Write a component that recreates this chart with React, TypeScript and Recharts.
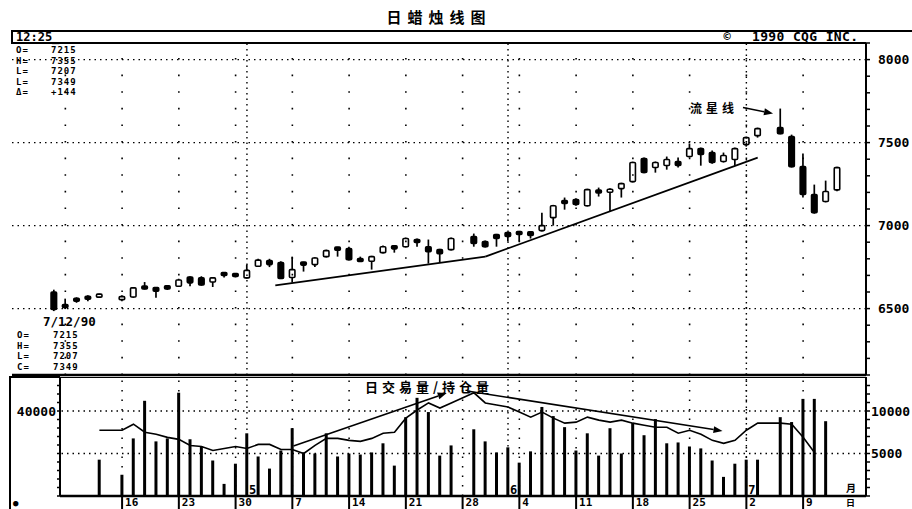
import React from "react";
import { ComposedChart, Bar, Line, XAxis, YAxis, ReferenceLine } from "recharts";

// ---------- data ----------
const dates = [
  "4/6", "4/9", "4/10", "4/11", "4/12", "4/13", "4/16", "4/17", "4/18", "4/19", "4/20",
  "4/23", "4/24", "4/25", "4/26", "4/27", "4/30", "5/1", "5/2", "5/3", "5/4",
  "5/7", "5/8", "5/9", "5/10", "5/11", "5/14", "5/15", "5/16", "5/17", "5/18",
  "5/21", "5/22", "5/23", "5/24", "5/25", "5/28", "5/29", "5/30", "5/31", "6/1",
  "6/4", "6/5", "6/6", "6/7", "6/8", "6/11", "6/12", "6/13", "6/14", "6/15",
  "6/18", "6/19", "6/20", "6/21", "6/22", "6/25", "6/26", "6/27", "6/28", "6/29",
  "7/2", "7/3", "7/4", "7/5", "7/6", "7/9", "7/10", "7/11", "7/12",
];

const opens = [
  6600, 6522, 6556, 6568, 6576, null, 6560, 6570, 6632, 6627,
  6638, 6635, 6690, 6685, 6660, 6712, 6705, 6685, 6755, 6790,
  6777, 6687, 6777, 6765, 6813, 6867, 6861, 6795, 6785, 6837,
  6873, 6873, 6915, 6873, 6855, 6855, null, 6934, 6904, 6946,
  6958, 6964, 6962, 6970, 7048, 7150, 7157, 7120, 7210, 7205,
  7223, 7265, 7404, 7350, 7362, 7386, 7416, 7464, 7440, 7386,
  7398, 7488, 7542, null, 7590, 7536, 7355, 7187, 7145, 7215,
];
const highs = [
  6614, 6560, 6568, 6580, 6590, null, 6580, 6630, 6660, 6630,
  6642, 6680, 6695, 6695, 6690, 6718, 6712, 6765, 6800, 6800,
  6785, 6813, 6782, 6810, 6855, 6872, 6873, 6813, 6818, 6880,
  6878, 6928, 6922, 6916, 6860, 6928, null, 6952, 6910, 6950,
  6962, 6968, 6966, 7078, 7125, 7169, 7165, 7222, 7229, 7225,
  7258, 7385, 7410, 7386, 7416, 7410, 7494, 7470, 7452, 7440,
  7470, 7536, 7590, null, 7705, 7548, 7434, 7247, 7271, 7355,
];
const lows = [
  6485, 6497, 6535, 6545, 6565, null, 6545, 6565, 6615, 6565,
  6612, 6630, 6635, 6638, 6630, 6688, 6688, 6680, 6750, 6750,
  6678, 6657, 6723, 6750, 6808, 6813, 6790, 6785, 6735, 6832,
  6837, 6868, 6873, 6771, 6777, 6850, null, 6873, 6868, 6873,
  6904, 6904, 6922, 6965, 7000, 7096, 7120, 7115, 7175, 7084,
  7169, 7260, 7315, 7319, 7337, 7350, 7410, 7361, 7373, 7380,
  7361, 7476, 7530, null, 7550, 7350, 7169, 7072, 7140, 7207,
];
const closes = [
  6495, 6510, 6550, 6562, 6580, null, 6566, 6625, 6622, 6605,
  6618, 6672, 6655, 6642, 6685, 6705, 6700, 6730, 6792, 6765,
  6681, 6735, 6765, 6805, 6849, 6855, 6795, 6790, 6813, 6873,
  6865, 6922, 6900, 6843, 6831, 6922, null, 6892, 6873, 6922,
  6934, 6946, 6940, 7000, 7120, 7135, 7127, 7217, 7200, 7215,
  7253, 7380, 7320, 7380, 7398, 7362, 7464, 7428, 7380, 7422,
  7464, 7530, 7584, null, 7554, 7355, 7187, 7078, 7205, 7349,
];
// daily volume (left scale)
const volumes = [
  null, null, null, null, 17100, null, 10000, 27100, 44800, 25700,
  27100, 48600, 26700, 23300, 16700, 5700, 15200, 29500, 18600, 12900,
  21400, 31900, 20500, 20000, 29500, 18600, 20000, 19500, 20500, 24800,
  14300, 37100, 46200, 39500, 19000, 23800, null, 31400, 25700, 20500,
  22900, 15700, 21000, 41900, 37600, 32400, 21400, 29500, 19000, 31900,
  20000, 34300, 28600, 36200, 24800, 25200, 23300, 22400, 16700, 9000,
  15200, 17100, 17100, null, 37100, 34800, 45700, 45700, 35200, null,
];
// open interest (right scale)
const openInterest = [
  null, null, null, null, 7735, null, 7735, 8450, 7500, 7260,
  6900, 6660, 5950, 5830, 5355, 5590, 5830, 5590, 6070, 6070,
  5470, 5470, 5000, 5950, 6780, 6780, 6545, 6425, 6780, 7380,
  7500, 9160, 10115, 10950, 10350, 10950, null, 12140, 10950, 10710,
  10470, 9880, 9280, 9880, 9160, 8570, 8690, 9280, 8925, 8690,
  8925, 8570, 8330, 8090, 8090, 7380, 7735, 7260, 6545, 6190,
  6545, 7735, 8570, null, 8570, 8450, 6900, 5120, null, null,
];

const priceTicks = [6100, 6200, 6300, 6400, 6500, 6600, 6700, 6800, 6900, 7000, 7100,
  7200, 7300, 7400, 7500, 7600, 7700, 7800, 7900, 8000, 8100];
const priceLabelTicks = [6500, 7000, 7500, 8000];
const volLeftTicks = [0, 4000, 8000, 12000, 16000, 20000, 24000, 28000, 32000, 36000, 40000, 44000, 48000, 52000];
const volLeftLabels = [40000];
const oiTicks = [0, 1000, 2000, 3000, 4000, 5000, 6000, 7000, 8000, 9000, 10000, 11000, 12000, 13000];
const oiLabels = [5000, 10000];

const gridMondays = ["4/9", "4/16", "4/23", "4/30", "5/7", "5/14", "5/21", "5/28", "6/4", "6/11", "6/18", "6/25", "7/2", "7/9"];
const weekLabelDates = ["4/16", "4/23", "4/30", "5/7", "5/14", "5/21", "5/28", "6/4", "6/11", "6/18", "6/25", "7/2", "7/9"];
const monthStartDates = ["5/1", "6/1", "7/2"];
const monthLabels = ["5", "6", "7"];

// trend line (trading-day index, price)
const supportT = [19.5, 38, 62];
const supportP = [6640, 6813, 7410];
// shooting star annotation arrow
const starArrowT = [60.7, 63.35];
const starArrowP = [7711, 7675];
// volume panel arrows (trading-day index, open-interest scale)
const volUpT = [21.1, 34.6];
const volUpV = [5880, 12120];
const volDownT = [36.4, 58.9];
const volDownV = [12350, 7650];

const topLabels = ["O=", "H=", "L=", "L=", "Δ="];
const topValues = ["7215", "7355", "7207", "7349", "+144"];
const bottomLabels = ["O=", "H=", "L=", "C="];
const bottomValues = ["7215", "7355", "7207", "7349"];
const infoDate = "7/12/90";
const infoTime = "12:25";

const data = dates.map((d, i) => ({
  i,
  date: d,
  range: highs[i] == null ? null : [lows[i], highs[i]],
  open: opens[i],
  high: highs[i],
  low: lows[i],
  close: closes[i],
  vol: volumes[i],
  oi: openInterest[i],
}));

const slotOf = (d: string) => dates.indexOf(d);

// ---------- styles ----------
const MONO = "'DejaVu Sans Mono', monospace";
const CJK = "'Noto Sans CJK SC', sans-serif";
const INK = "#000";

// ---------- shapes ----------
const Candle = (props: any) => {
  const { x, y, width, height, payload } = props;
  if (!payload || payload.open == null || payload.high == null) return null;
  const { open, close, high, low } = payload;
  const top = Math.min(y, y + height);
  const h = Math.abs(height);
  const span = high - low || 1;
  const py = (v: number) => top + ((high - v) / span) * h;
  const cx = x + width / 2;
  const yO = py(open);
  const yC = py(close);
  let bTop = Math.min(yO, yC);
  let bH = Math.abs(yO - yC);
  if (bH < 3) {
    const m = (yO + yC) / 2;
    bTop = m - 1.5;
    bH = 3;
  }
  const up = close >= open;
  return (
    <g>
      <line x1={cx} y1={top} x2={cx} y2={top + h} stroke={INK} strokeWidth={1.7} />
      <rect x={cx - width / 2 + 0.75} y={bTop} width={width - 1.5} height={bH} rx={1}
        fill={up ? "#fff" : INK} stroke={INK} strokeWidth={1.6} />
    </g>
  );
};

const arrowShape = (p: any) => {
  const { x1, y1, x2, y2 } = p;
  if ([x1, y1, x2, y2].some((v) => v == null || isNaN(v))) return <g />;
  const a = Math.atan2(y2 - y1, x2 - x1);
  const L = 9, Wd = 3.5;
  const bx = x2 - L * Math.cos(a), by = y2 - L * Math.sin(a);
  const pts = `${x2},${y2} ${bx + Wd * Math.sin(a)},${by - Wd * Math.cos(a)} ${bx - Wd * Math.sin(a)},${by + Wd * Math.cos(a)}`;
  return (
    <g>
      <line x1={x1} y1={y1} x2={bx} y2={by} stroke={INK} strokeWidth={1.6} />
      <polygon points={pts} fill={INK} />
    </g>
  );
};

const WeekTick = (props: any) => {
  const { x, y, payload } = props;
  const label = dates[payload.value] ? dates[payload.value].split("/")[1] : "";
  return (
    <g>
      <line x1={x} y1={y} x2={x} y2={y + 14} stroke={INK} strokeWidth={2} />
      <text x={x + 3} y={y + 10} fontFamily={MONO} fontWeight="bold" fontSize={11} fill={INK}>{label}</text>
    </g>
  );
};

const monthTag = (text: string) => (props: any) => {
  const vb = props.viewBox || {};
  const x = vb.x ?? 0;
  const yb = (vb.y ?? 0) + (vb.height ?? 0);
  return (
    <text x={x + 2} y={yb - 2} fontFamily={MONO} fontWeight="bold" fontSize={12} fill={INK}>{text}</text>
  );
};

const starLabel = (props: any) => {
  const vb = props.viewBox || {};
  const x = vb.x ?? 0;
  const y = vb.y ?? 0;
  return (
    <text x={x - 5} y={y + 5} textAnchor="end" fontFamily={CJK} fontWeight="bold" fontSize={12}
      letterSpacing={4} fill={INK}>流星线</text>
  );
};

const TextBlock = ({ x, y, lines, step, size }: { x: number; y: number; lines: string[]; step: number; size: number }) => (
  <text x={x} y={y} fontFamily={MONO} fontWeight="bold" fontSize={size} letterSpacing={1} fill={INK}>
    {lines.map((s, k) => (
      <tspan key={k} x={x} dy={k === 0 ? 0 : step}>{s}</tspan>
    ))}
  </text>
);

const axisTickStyle = { fontFamily: MONO, fontWeight: "bold", fontSize: 13, fill: INK } as any;

export default function App() {
  const priceDomainX: [number, number] = [-3.7, 71.54];
  const volDomainX: [number, number] = [0.53, 71.54];
  const weekSlots = weekLabelDates.map(slotOf);

  return (
    <div style={{ position: "absolute", left: 0, top: 0, width: 912, height: 509, background: "#fff", overflow: "hidden" }}>
      {/* price panel */}
      <div style={{ position: "absolute", left: 0, top: 0 }}>
        <ComposedChart width={912} height={377} data={data} margin={{ top: 43, right: 0, bottom: 2, left: 12 }}>
          <XAxis type="number" dataKey="i" domain={priceDomainX} allowDataOverflow hide />
          <YAxis yAxisId="p" orientation="right" width={46} domain={[6100, 8100]} allowDataOverflow
            ticks={priceTicks} interval={0} tickSize={4} tickMargin={8}
            tickFormatter={(v: number) => (priceLabelTicks.includes(v) ? String(v) : "")}
            tick={axisTickStyle} axisLine={{ stroke: INK, strokeWidth: 2 }} tickLine={{ stroke: INK, strokeWidth: 1.5 }} />
          <YAxis yAxisId="l" orientation="left" width={0} mirror domain={[6100, 8100]} allowDataOverflow
            ticks={priceTicks} interval={0} tick={false} tickSize={4}
            axisLine={{ stroke: INK, strokeWidth: 2 }} tickLine={{ stroke: INK, strokeWidth: 1.5 }} />

          {gridMondays.map((d) => (
            <ReferenceLine key={"wg" + d} yAxisId="p" x={slotOf(d)} stroke={INK} strokeWidth={1.6} strokeDasharray="1.6 15" />
          ))}
          {monthStartDates.map((d) => (
            <ReferenceLine key={"mg" + d} yAxisId="p" x={slotOf(d)} stroke={INK} strokeWidth={1.4} strokeDasharray="1.5 4" />
          ))}
          {priceLabelTicks.map((v) => (
            <ReferenceLine key={"hg" + v} yAxisId="p" y={v} stroke={INK} strokeWidth={1.4} strokeDasharray="1.5 4" />
          ))}
          <ReferenceLine yAxisId="p" y={8100} stroke={INK} strokeWidth={2} />
          <ReferenceLine yAxisId="p" y={6100} stroke={INK} strokeWidth={2.5} />

          <ReferenceLine yAxisId="p" stroke={INK} strokeWidth={1.8}
            segment={[{ x: supportT[0], y: supportP[0] }, { x: supportT[1], y: supportP[1] }]} />
          <ReferenceLine yAxisId="p" stroke={INK} strokeWidth={1.8}
            segment={[{ x: supportT[1], y: supportP[1] }, { x: supportT[2], y: supportP[2] }]} />
          <ReferenceLine yAxisId="p" shape={arrowShape} label={starLabel}
            segment={[{ x: starArrowT[0], y: starArrowP[0] }, { x: starArrowT[1], y: starArrowP[1] }]} />

          <Bar yAxisId="p" dataKey="range" barSize={7} shape={Candle} isAnimationActive={false} />
        </ComposedChart>
      </div>

      {/* volume / open interest panel */}
      <div style={{ position: "absolute", left: 0, top: 377 }}>
        <ComposedChart width={912} height={132} data={data} margin={{ top: 0, right: 0, bottom: 0, left: 10 }}>
          <XAxis type="number" dataKey="i" domain={volDomainX} allowDataOverflow height={13}
            ticks={weekSlots} interval={0} tickSize={0} tickMargin={0} tickLine={false}
            tick={WeekTick} axisLine={{ stroke: INK, strokeWidth: 2.5 }} />
          <YAxis yAxisId="v" orientation="left" width={50} domain={[0, 56000]} allowDataOverflow
            ticks={volLeftTicks} interval={0} tickSize={3} tickMargin={1}
            tickFormatter={(v: number) => (volLeftLabels.includes(v) ? String(v) : "")}
            tick={axisTickStyle} axisLine={{ stroke: INK, strokeWidth: 2 }} tickLine={{ stroke: INK, strokeWidth: 1.5 }} />
          <YAxis yAxisId="oi" orientation="right" width={46} domain={[0, 14000]} allowDataOverflow
            ticks={oiTicks} interval={0} tickSize={4} tickMargin={1}
            tickFormatter={(v: number) => (oiLabels.includes(v) ? String(v) : "")}
            tick={axisTickStyle} axisLine={{ stroke: INK, strokeWidth: 2 }} tickLine={{ stroke: INK, strokeWidth: 1.5 }} />

          {weekLabelDates.map((d) => (
            <ReferenceLine key={"vw" + d} yAxisId="oi" x={slotOf(d)} stroke={INK} strokeWidth={1.5} strokeDasharray="1.5 8" />
          ))}
          {monthStartDates.map((d, k) => (
            <ReferenceLine key={"vm" + d} yAxisId="oi" x={slotOf(d)} stroke={INK} strokeWidth={1.4}
              strokeDasharray="1.5 4" label={monthTag(monthLabels[k])} />
          ))}
          {oiLabels.map((v) => (
            <ReferenceLine key={"vh" + v} yAxisId="oi" y={v} stroke={INK} strokeWidth={1.4} strokeDasharray="1.5 4" />
          ))}
          <ReferenceLine yAxisId="oi" y={14000} stroke={INK} strokeWidth={2} />

          <Bar yAxisId="v" dataKey="vol" barSize={3} fill={INK} isAnimationActive={false} />
          <Line yAxisId="oi" dataKey="oi" type="linear" stroke={INK} strokeWidth={1.6} dot={false}
            connectNulls isAnimationActive={false} />

          <ReferenceLine yAxisId="oi" shape={arrowShape}
            segment={[{ x: volUpT[0], y: volUpV[0] }, { x: volUpT[1], y: volUpV[1] }]} />
          <ReferenceLine yAxisId="oi" shape={arrowShape}
            segment={[{ x: volDownT[0], y: volDownV[0] }, { x: volDownT[1], y: volDownV[1] }]} />
        </ComposedChart>
      </div>

      {/* header, frame and text */}
      <svg width={912} height={509} style={{ position: "absolute", left: 0, top: 0, pointerEvents: "none" }}>
        <text x={439} y={23} textAnchor="middle" fontFamily={CJK} fontWeight="bold" fontSize={15} letterSpacing={6} fill={INK}>
          日蜡烛线图
        </text>
        <line x1={12} y1={31} x2={912} y2={31} stroke={INK} strokeWidth={2} />
        <line x1={12} y1={43} x2={866} y2={43} stroke={INK} strokeWidth={2} />
        <line x1={12} y1={30} x2={12} y2={44} stroke={INK} strokeWidth={2} />
        <text x={16} y={41} fontFamily={MONO} fontWeight="bold" fontSize={12} fill={INK}>{infoTime + "_"}</text>
        <text x={727} y={41} textAnchor="middle" fontFamily={MONO} fontWeight="bold" fontSize={12} fill={INK}>©</text>
        <text x={752} y={41} fontFamily={MONO} fontWeight="bold" fontSize={13} textLength={106} lengthAdjust="spacing" fill={INK}>
          1990 CQG INC.
        </text>

        <TextBlock x={16} y={53} lines={topLabels} step={10.5} size={9} />
        <TextBlock x={51} y={53} lines={topValues} step={10.5} size={9} />

        <text x={43} y={326} fontFamily={MONO} fontWeight="bold" fontSize={12.5} fill={INK}>{infoDate}</text>
        <TextBlock x={17} y={338} lines={bottomLabels} step={10.5} size={9} />
        <TextBlock x={53} y={338} lines={bottomValues} step={10.5} size={9} />

        <line x1={10} y1={377} x2={60} y2={377} stroke={INK} strokeWidth={2} />
        <line x1={10} y1={376} x2={10} y2={509} stroke={INK} strokeWidth={2} />
        <text x={13} y={506} fontFamily={MONO} fontSize={9} fill={INK}>●</text>

        <text x={429} y={392} textAnchor="middle" fontFamily={CJK} fontWeight="bold" fontSize={13} letterSpacing={4} fill={INK}>
          日交易量/持仓量
        </text>
        <text x={846} y={492} fontFamily={CJK} fontWeight="bold" fontSize={10} fill={INK}>月</text>
        <text x={846} y={506.4} fontFamily={CJK} fontWeight="bold" fontSize={9} fill={INK}>日</text>
      </svg>
    </div>
  );
}
